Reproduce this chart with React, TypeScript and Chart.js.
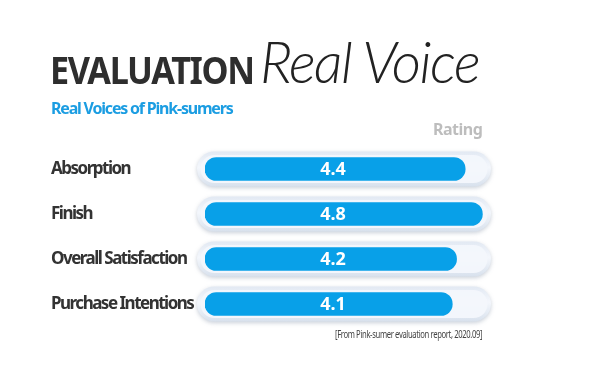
import React, { useEffect, useRef } from "react";
import { Chart, registerables } from "chart.js";

Chart.register(...registerables);

const categories = ["Absorption", "Finish", "Overall Satisfaction", "Purchase Intentions"];
const ratings = [4.4, 4.8, 4.2, 4.1];
const scaleMin = -1.65;
const scaleMax = 5;
const titleMain = "EVALUATION";
const titleScript = "Real Voice";
const subtitle = "Real Voices of Pink-sumers";
const columnLabel = "Rating";
const sourceNote = "[From Pink-sumer evaluation report, 2020.09]";

const BLUE = "#08a0e8";

const decorPlugin = {
  id: "decor",
  beforeDatasetsDraw(chart: any) {
    const { ctx, chartArea, scales } = chart;
    const y = scales.y;
    ctx.save();
    categories.forEach((_, i) => {
      const cy = y.getPixelForValue(i);
      const h = 35;
      const x0 = chartArea.left - 8;
      const x1 = chartArea.right;
      ctx.save();
      ctx.beginPath();
      ctx.roundRect(x0, cy - h / 2, x1 - x0, h, h / 2);
      ctx.shadowColor = "rgba(80,100,130,0.30)";
      ctx.shadowBlur = 4;
      ctx.shadowOffsetY = 1.5;
      const g = ctx.createLinearGradient(0, cy - h / 2, 0, cy + h / 2);
      g.addColorStop(0, "#e2e9f3");
      g.addColorStop(0.45, "#f4f7fc");
      g.addColorStop(1, "#d8e1ed");
      ctx.fillStyle = g;
      ctx.fill();
      ctx.restore();
      ctx.beginPath();
      ctx.roundRect(x0 + 3.5, cy - h / 2 + 3.5, x1 - x0 - 7, h - 7, (h - 7) / 2);
      ctx.fillStyle = "rgba(243,247,252,0.95)";
      ctx.fill();
    });
    ctx.restore();
  },
  afterDatasetsDraw(chart: any) {
    const { ctx, chartArea, scales } = chart;
    const y = scales.y;
    ctx.save();
    ctx.textBaseline = "middle";
    categories.forEach((label, i) => {
      const cy = y.getPixelForValue(i);
      ctx.fillStyle = "#ffffff";
      ctx.font = "bold 18px 'Noto Sans'";
      ctx.textAlign = "center";
      (ctx as any).letterSpacing = "0px";
      ctx.fillText(ratings[i].toFixed(1), chartArea.left + 128, cy + 1);
      ctx.fillStyle = "#333333";
      ctx.font = "bold 17px 'Noto Sans'";
      ctx.textAlign = "left";
      (ctx as any).letterSpacing = "-1.5px";
      ctx.fillText(label, 51, cy);
    });
    ctx.restore();
  },
};

export default function App() {
  const canvasRef = useRef<HTMLCanvasElement | null>(null);

  useEffect(() => {
    if (!canvasRef.current) return;
    const chart = new Chart(canvasRef.current, {
      type: "bar",
      data: {
        labels: categories,
        datasets: [
          {
            data: ratings,
            base: scaleMin,
            backgroundColor: BLUE,
            borderRadius: 12,
            borderSkipped: false,
            barThickness: 23,
          } as any,
        ],
      },
      options: {
        indexAxis: "y",
        animation: false,
        responsive: true,
        maintainAspectRatio: false,
        layout: { padding: { left: 205, right: 109, top: 146.5, bottom: 50.5 } },
        plugins: { legend: { display: false }, tooltip: { enabled: false }, title: { display: false } },
        scales: {
          x: { min: scaleMin, max: scaleMax, display: false },
          y: { display: false },
        },
      },
      plugins: [decorPlugin],
    });
    return () => chart.destroy();
  }, []);

  const base: React.CSSProperties = {
    position: "absolute",
    whiteSpace: "nowrap",
    lineHeight: 1,
    fontFamily: "'Noto Sans', sans-serif",
    margin: 0,
  };

  return (
    <div style={{ position: "absolute", left: 0, top: 0, width: 600, height: 377, background: "#ffffff", overflow: "hidden" }}>
      <div style={{ position: "absolute", left: 0, top: 0, width: 600, height: 377 }}>
        <canvas ref={canvasRef} />
      </div>
      <div
        style={{
          ...base,
          left: 50,
          top: 50,
          fontSize: 38,
          fontWeight: 700,
          color: "#2e2e2e",
          letterSpacing: "-1.5px",
          transform: "scaleX(0.9)",
          transformOrigin: "left top",
        }}
      >
        {titleMain}
      </div>
      <div
        style={{
          ...base,
          left: 260,
          top: 33,
          fontSize: 57,
          fontWeight: 300,
          fontStyle: "italic",
          fontFamily: "Lato, sans-serif",
          color: "#222222",
          letterSpacing: "-1.5px",
        }}
      >
        {titleScript}
      </div>
      <div
        style={{
          ...base,
          left: 51,
          top: 100,
          fontSize: 16,
          fontWeight: 700,
          color: "#1b9de2",
          letterSpacing: "-1.2px",
        }}
      >
        {subtitle}
      </div>
      <div
        style={{
          ...base,
          left: 433,
          top: 121,
          fontSize: 16,
          fontWeight: 700,
          color: "#bdbdbd",
          letterSpacing: "-0.5px",
        }}
      >
        {columnLabel}
      </div>
      <div
        style={{
          ...base,
          left: 335,
          top: 329,
          fontSize: 10.5,
          color: "#444444",
          letterSpacing: "-0.5px",
          transform: "scaleX(0.73)",
          transformOrigin: "left top",
        }}
      >
        {sourceNote}
      </div>
    </div>
  );
}
